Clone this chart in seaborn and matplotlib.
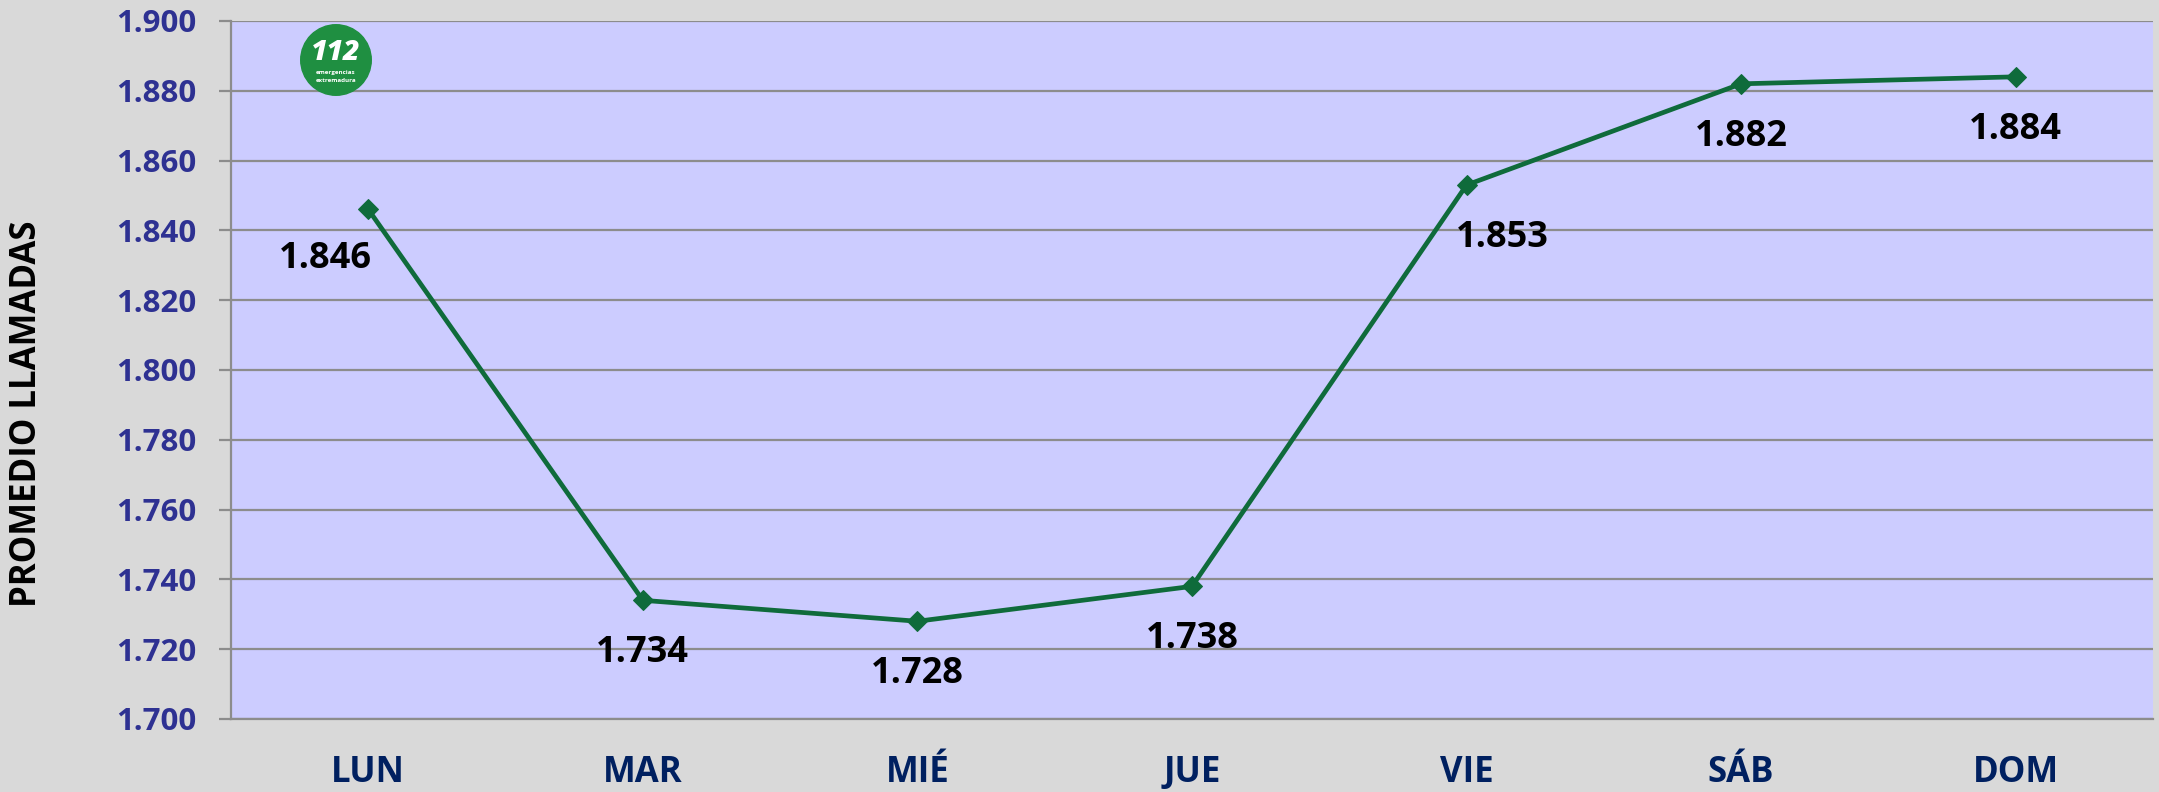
import numpy as np
import pandas as pd
import seaborn as sns
import matplotlib.pyplot as plt
from matplotlib.patches import Circle
from matplotlib.ticker import FuncFormatter

# datos
dias = ['LUN', 'MAR', 'MIÉ', 'JUE', 'VIE', 'SÁB', 'DOM']
promedio = [1846, 1734, 1728, 1738, 1853, 1882, 1884]
y_ticks = np.arange(1700, 1901, 20)

df = pd.DataFrame({'dia': dias, 'promedio': promedio})


def miles(v, pos=None):
    return '{:,.0f}'.format(v).replace(',', '.')


sns.set_theme(style='white')
plt.rcParams['font.family'] = ['Open Sans', 'DejaVu Sans']

fig = plt.figure(figsize=(21.59, 7.92), dpi=100, facecolor='#d9d9d9')
ax = fig.add_axes([0.1070, 0.0922, 0.8902, 0.8813])
ax.set_facecolor('#ccccff')

verde = '#0f6b3b'
sns.lineplot(data=df, x='dia', y='promedio', ax=ax, color=verde, linewidth=3.4,
             marker='D', markersize=10.5, markeredgecolor=verde, sort=False)

# etiquetas de datos (desplazamiento en puntos)
offsets = {'LUN': (-31, -36), 'VIE': (26, -38)}
for i, (d, v) in enumerate(zip(dias, promedio)):
    dx, dy = offsets.get(d, (0, -38))
    ax.annotate(miles(v), (i, v), xytext=(dx, dy), textcoords='offset points',
                ha='center', va='center', fontsize=26, fontweight='bold', color='black')

ax.set_xlim(-0.5, len(dias) - 0.5)
ax.set_ylim(1700, 1900)
ax.set_yticks(y_ticks)
ax.yaxis.set_major_formatter(FuncFormatter(miles))
ax.grid(axis='y', color='#8c8c8c', linewidth=1.6)
ax.grid(axis='x', visible=False)
ax.set_axisbelow(True)

for s in ['top', 'right']:
    ax.spines[s].set_visible(False)
for s in ['left', 'bottom']:
    ax.spines[s].set_color('#8c8c8c')
    ax.spines[s].set_linewidth(1.6)

ax.tick_params(axis='y', which='major', left=True, length=9, width=1.6, color='#8c8c8c',
               pad=16, labelsize=22.5, labelcolor='#2e3192')
ax.tick_params(axis='x', length=0, pad=26, labelsize=25, labelcolor='#002060')
for lab in ax.get_yticklabels() + ax.get_xticklabels():
    lab.set_fontweight('bold')

ax.set_xlabel('')
ax.set_ylabel('PROMEDIO LLAMADAS', fontsize=25, fontweight='bold', color='black')
ax.yaxis.set_label_coords(-0.097, 0.437)

# logo 112
logo = fig.add_axes([300 / 2159, 1 - 96 / 792, 72 / 2159, 72 / 792])
logo.set_xlim(-1, 1)
logo.set_ylim(-1, 1)
logo.set_aspect('equal')
logo.axis('off')
logo.add_patch(Circle((0, 0), 0.98, color='#1f8f41'))
logo.text(0, 0.2, '112', ha='center', va='center', color='white', fontsize=20.5,
          fontweight='heavy', fontstyle='italic')
logo.text(0, -0.36, 'emergencias', ha='center', va='center', color='white', fontsize=4.5,
          fontweight='bold')
logo.text(0, -0.58, 'extremadura', ha='center', va='center', color='white', fontsize=4.5,
          fontweight='bold')

fig.savefig('out.png', dpi=100, facecolor=fig.get_facecolor())
